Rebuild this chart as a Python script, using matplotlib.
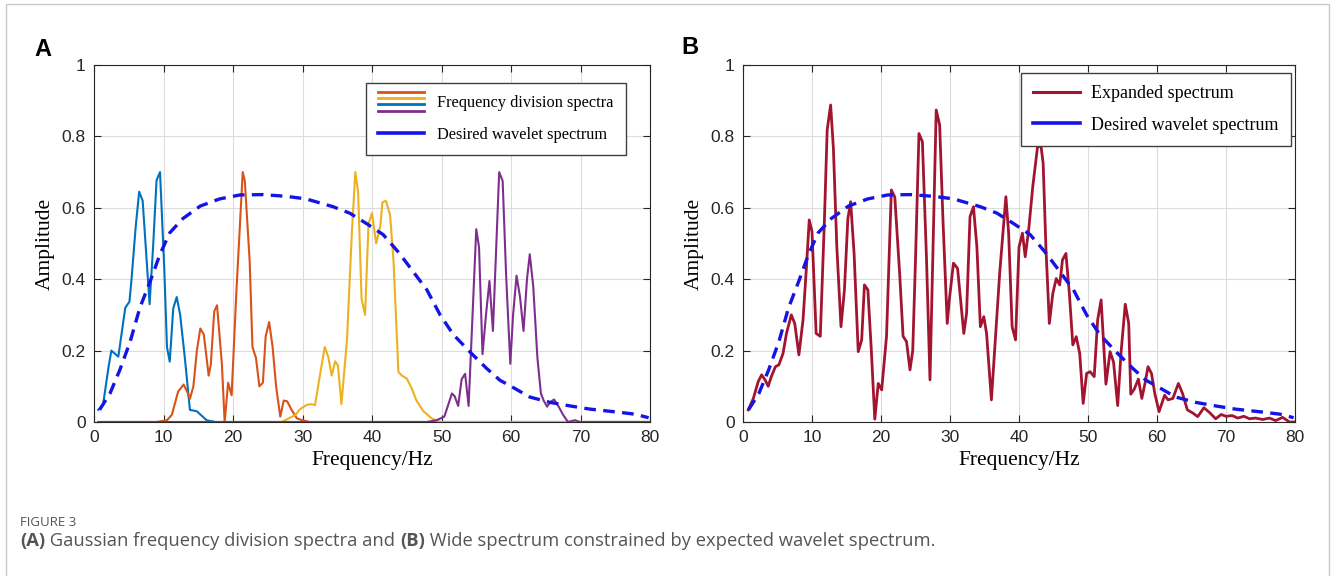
import matplotlib
matplotlib.use('Agg')
import matplotlib.pyplot as plt
from matplotlib.lines import Line2D
from matplotlib.legend_handler import HandlerBase
from matplotlib.patches import Rectangle

# Desired wavelet spectrum (same curve on both panels)
desired_x = [0.8, 2.3, 3.7, 5.2, 6.6, 8.1, 9.5, 10.9, 12.8, 15.3, 18.1, 21.0, 24.3, 27.7, 30.5, 34.4,
             36.8, 39.2, 41.6, 43.7, 45.0, 47.9, 49.8, 51.7, 54.1, 56.5, 58.4, 60.0, 62.7, 65.6, 68.5,
             71.4, 75.2, 77.8, 79.8]
desired_y = [0.034, 0.08, 0.145, 0.225, 0.32, 0.395, 0.47, 0.53, 0.57, 0.605, 0.625, 0.636, 0.637, 0.632,
             0.625, 0.603, 0.585, 0.556, 0.525, 0.478, 0.445, 0.37, 0.30, 0.245, 0.196, 0.15, 0.117, 0.1,
             0.07, 0.055, 0.045, 0.036, 0.028, 0.022, 0.012]

# Panel A: frequency division spectra
blue_x = [0.6, 1.3, 2.1, 2.5, 3.5, 4.5, 5.1, 5.4, 6.0, 6.5, 7.0, 8.0, 8.5, 9.0, 9.5, 10.1, 10.5, 10.9,
          11.4, 11.9, 12.4, 13.1, 13.8, 14.8, 16.2, 17.5, 80]
blue_y = [0.034, 0.048, 0.155, 0.2, 0.183, 0.32, 0.337, 0.40, 0.547, 0.645, 0.62, 0.33, 0.49, 0.677, 0.70,
          0.435, 0.21, 0.169, 0.318, 0.35, 0.30, 0.174, 0.034, 0.03, 0.005, 0, 0]

orange_x = [0.6, 9.0, 10.5, 11.2, 12.1, 12.9, 13.4, 13.8, 14.3, 14.8, 15.3, 15.8, 16.5, 16.8, 17.3, 17.7,
            18.4, 18.8, 19.3, 19.8, 20.5, 21.4, 21.7, 22.4, 22.8, 23.3, 23.8, 24.3, 24.7, 25.2, 25.7,
            26.2, 26.8, 27.3, 27.8, 28.4, 29.2, 30.0, 31.0, 80]
orange_y = [0, 0, 0.005, 0.02, 0.085, 0.105, 0.085, 0.065, 0.1, 0.2, 0.262, 0.245, 0.13, 0.16, 0.31, 0.327,
            0.163, 0.0, 0.11, 0.075, 0.37, 0.70, 0.675, 0.45, 0.21, 0.18, 0.1, 0.11, 0.24, 0.28, 0.21,
            0.1, 0.015, 0.06, 0.058, 0.035, 0.01, 0.005, 0, 0]

yellow_x = [0.6, 27.0, 28.0, 29.0, 29.6, 30.6, 31.3, 31.8, 32.5, 33.2, 33.7, 34.2, 34.7, 35.1, 35.6, 36.4,
            37.1, 37.6, 38.0, 38.5, 39.0, 39.5, 40.0, 40.6, 41.2, 41.5, 42.0, 42.6, 43.1, 43.8, 44.3,
            45.0, 45.7, 46.4, 47.4, 48.6, 49.8, 80]
yellow_y = [0, 0, 0.01, 0.02, 0.035, 0.048, 0.05, 0.047, 0.13, 0.21, 0.183, 0.13, 0.17, 0.158, 0.05, 0.23,
            0.53, 0.70, 0.645, 0.345, 0.3, 0.555, 0.585, 0.50, 0.55, 0.615, 0.62, 0.58, 0.45, 0.14, 0.13,
            0.122, 0.095, 0.06, 0.03, 0.01, 0, 0]

purple_x = [0.6, 47.9, 49.3, 50.4, 51.0, 51.5, 51.9, 52.4, 52.9, 53.4, 53.9, 55.0, 55.4, 55.9, 56.4, 56.9,
            57.4, 58.3, 58.8, 59.3, 59.9, 60.3, 60.8, 61.3, 61.8, 62.3, 62.7, 63.2, 63.8, 64.3, 64.7,
            65.2, 65.6, 66.2, 66.8, 67.5, 68.2, 69.2, 69.9, 80]
purple_y = [0, 0, 0.005, 0.015, 0.05, 0.08, 0.072, 0.045, 0.12, 0.135, 0.045, 0.54, 0.49, 0.19, 0.30, 0.395,
            0.255, 0.70, 0.675, 0.41, 0.163, 0.30, 0.41, 0.35, 0.255, 0.40, 0.47, 0.38, 0.18, 0.08, 0.06,
            0.043, 0.055, 0.063, 0.045, 0.02, 0.0, 0.005, 0, 0]

# Panel B: expanded spectrum
red_x = [0.76, 1.5, 2.2, 2.7, 3.2, 3.65, 4.1, 4.7, 5.2, 5.8, 6.3, 7.0, 7.5, 8.1, 8.7, 9.2, 9.6, 10.0,
         10.6, 11.2, 11.8, 12.2, 12.7, 13.1, 13.6, 14.2, 14.7, 15.2, 15.6, 16.1, 16.7, 17.2, 17.6, 18.1,
         18.6, 19.1, 19.6, 20.1, 20.8, 21.5, 22.0, 22.7, 23.2, 23.7, 24.2, 24.6, 25.0, 25.5, 26.0, 26.6,
         27.1, 27.5, 28.0, 28.5, 29.0, 29.6, 29.9, 30.5, 31.1, 32.0, 32.4, 32.9, 33.4, 33.9, 34.4, 34.9,
         35.3, 36.0, 36.6, 37.2, 37.7, 38.1, 38.5, 39.0, 39.5, 40.0, 40.5, 40.9, 41.4, 42.0, 42.7, 43.2,
         43.5, 43.9, 44.4, 44.9, 45.4, 45.9, 46.3, 46.8, 47.3, 47.8, 48.3, 48.8, 49.3, 49.8, 50.3, 50.9,
         51.4, 51.9, 52.6, 53.2, 53.7, 54.3, 54.8, 55.4, 55.9, 56.2, 56.7, 57.3, 57.8, 58.3, 58.7, 59.2,
         59.7, 60.3, 61.1, 61.6, 62.3, 63.1, 63.7, 64.4, 65.2, 65.9, 66.8, 67.7, 68.5, 69.3, 70.0, 70.9,
         71.7, 72.6, 73.4, 74.3, 75.3, 76.3, 77.2, 78.2, 79.2, 80]
red_y = [0.034, 0.066, 0.113, 0.132, 0.118, 0.1, 0.127, 0.155, 0.16, 0.192, 0.248, 0.30, 0.276, 0.188,
         0.286, 0.435, 0.566, 0.533, 0.248, 0.24, 0.566, 0.818, 0.888, 0.767, 0.49, 0.267, 0.37, 0.57,
         0.617, 0.472, 0.197, 0.23, 0.384, 0.37, 0.20, 0.008, 0.108, 0.09, 0.24, 0.65, 0.63, 0.417, 0.24,
         0.225, 0.146, 0.2, 0.454, 0.808, 0.785, 0.454, 0.118, 0.454, 0.874, 0.832, 0.556, 0.276, 0.342,
         0.445, 0.43, 0.248, 0.304, 0.575, 0.603, 0.49, 0.267, 0.295, 0.248, 0.062, 0.24, 0.417, 0.538,
         0.631, 0.529, 0.267, 0.23, 0.49, 0.529, 0.463, 0.538, 0.66, 0.773, 0.771, 0.725, 0.49, 0.276,
         0.36, 0.402, 0.384, 0.454, 0.472, 0.36, 0.216, 0.239, 0.192, 0.052, 0.136, 0.141, 0.127, 0.286,
         0.342, 0.106, 0.197, 0.168, 0.046, 0.197, 0.33, 0.276, 0.078, 0.092, 0.12, 0.066, 0.112, 0.155,
         0.136, 0.078, 0.029, 0.075, 0.062, 0.066, 0.108, 0.08, 0.034, 0.025, 0.015, 0.04, 0.025, 0.009,
         0.021, 0.016, 0.018, 0.011, 0.016, 0.009, 0.011, 0.007, 0.011, 0.004, 0.013, 0.0, 0.0]

x_ticks = [0, 10, 20, 30, 40, 50, 60, 70, 80]
y_ticks = [0, 0.2, 0.4, 0.6, 0.8, 1]
y_ticklabels = ['0', '0.2', '0.4', '0.6', '0.8', '1']

BLUE = '#0072BD'
ORANGE = '#D95319'
YELLOW = '#EDB120'
PURPLE = '#7E2F8E'
DARKRED = '#A2142F'
DASH = '#1414E6'
SERIF = 'Liberation Serif'
SANS = 'Liberation Sans'


class StackedHandler(HandlerBase):
    # draws several short lines stacked on top of each other as one legend key
    def create_artists(self, legend, orig_handle, xdescent, ydescent, width, height, fontsize, trans):
        artists = []
        n = len(orig_handle)
        step = 4.4
        for i, h in enumerate(orig_handle):
            y = height / 2 - ydescent + ((n - 1) / 2 - i) * step
            ln = Line2D([-xdescent, -xdescent + width], [y, y], color=h.get_color(),
                        linewidth=h.get_linewidth(), transform=trans)
            artists.append(ln)
        return artists


def style_axes(ax):
    ax.set_xlim(0, 80)
    ax.set_ylim(0, 1)
    ax.set_xticks(x_ticks)
    ax.set_yticks(y_ticks)
    ax.set_yticklabels(y_ticklabels)
    ax.grid(True, color='#dcdcdc', linewidth=0.8)
    ax.set_axisbelow(True)
    ax.tick_params(direction='in', top=True, right=True, length=5, width=0.8,
                   colors='#262626', labelsize=12.5, pad=6)
    for lab in ax.get_xticklabels() + ax.get_yticklabels():
        lab.set_fontfamily(SANS)
    for sp in ax.spines.values():
        sp.set_color('#262626')
        sp.set_linewidth(0.8)
    ax.set_xlabel('Frequency/Hz', fontfamily=SERIF, fontsize=15.5, labelpad=4)
    ax.set_ylabel('Amplitude', fontfamily=SERIF, fontsize=15.5, labelpad=5)


fig = plt.figure(figsize=(13.32, 5.76), dpi=100)

# ---- panel A
axA = fig.add_axes([94 / 1332, 1 - 422 / 576, 556 / 1332, 357 / 576])
axA.plot(blue_x, blue_y, color=BLUE, linewidth=1.5)
axA.plot(orange_x, orange_y, color=ORANGE, linewidth=1.5)
axA.plot(yellow_x, yellow_y, color=YELLOW, linewidth=1.5)
axA.plot(purple_x, purple_y, color=PURPLE, linewidth=1.5)
axA.plot(desired_x, desired_y, color=DASH, linewidth=2.4, linestyle=(0, (3.5, 2.2)))
style_axes(axA)

stack = tuple(Line2D([], [], color=c, linewidth=2) for c in [ORANGE, YELLOW, BLUE, PURPLE])
proxy_desired = Line2D([], [], color=DASH, linewidth=2.6)
legA = axA.legend([stack, proxy_desired], ['Frequency division spectra', 'Desired wavelet spectrum'],
                  handler_map={tuple: StackedHandler()}, loc='upper right',
                  bbox_to_anchor=(0.957, 0.95), borderaxespad=0, prop={'family': SERIF, 'size': 11.8},
                  fancybox=False, edgecolor='#404040', framealpha=1, handlelength=2.8,
                  handletextpad=0.8, labelspacing=0.95, borderpad=0.75)
legA.get_frame().set_linewidth(1.0)

# ---- panel B
axB = fig.add_axes([743 / 1332, 1 - 422 / 576, 552 / 1332, 357 / 576])
axB.plot(red_x, red_y, color=DARKRED, linewidth=2.0)
axB.plot(desired_x, desired_y, color=DASH, linewidth=2.4, linestyle=(0, (3.5, 2.2)))
style_axes(axB)

legB = axB.legend([Line2D([], [], color=DARKRED, linewidth=2.2), proxy_desired],
                  ['Expanded spectrum', 'Desired wavelet spectrum'], loc='upper right',
                  bbox_to_anchor=(0.993, 0.978), borderaxespad=0, prop={'family': SERIF, 'size': 13.0},
                  fancybox=False, edgecolor='#404040', framealpha=1, handlelength=2.6,
                  handletextpad=0.6, labelspacing=0.78, borderpad=0.7)
legB.get_frame().set_linewidth(1.0)

# panel letters
fig.text(43 / 1332, 1 - 49 / 576, 'A', fontsize=17, fontweight='bold', fontfamily=SANS,
         ha='center', va='center')
fig.text(690 / 1332, 1 - 48 / 576, 'B', fontsize=17, fontweight='bold', fontfamily=SANS,
         ha='center', va='center')

# outer frame of the figure block
fig.add_artist(Rectangle((6 / 1332, -0.05), 1323 / 1332, 1.05 - 4 / 576, transform=fig.transFigure,
                         fill=False, edgecolor='#c8c8c8', linewidth=1.0))

# caption
CAP = '#555555'
fig.text(20 / 1332, 1 - 523 / 576, 'FIGURE 3', fontsize=9.5, color=CAP, fontfamily='Open Sans',
         va='center')
pieces = [('(A)', 'bold'), (' Gaussian frequency division spectra and ', 'normal'), ('(B)', 'bold'),
          (' Wide spectrum constrained by expected wavelet spectrum.', 'normal')]
renderer = fig.canvas.get_renderer()
x = 20 / 1332
for txt, w in pieces:
    t = fig.text(x, 1 - 541 / 576, txt, fontsize=13.2, color=CAP, fontfamily='Open Sans',
                 fontweight=w, va='center')
    bb = t.get_window_extent(renderer)
    x = bb.x1 / fig.bbox.width

fig.savefig('out.png', dpi=100)
